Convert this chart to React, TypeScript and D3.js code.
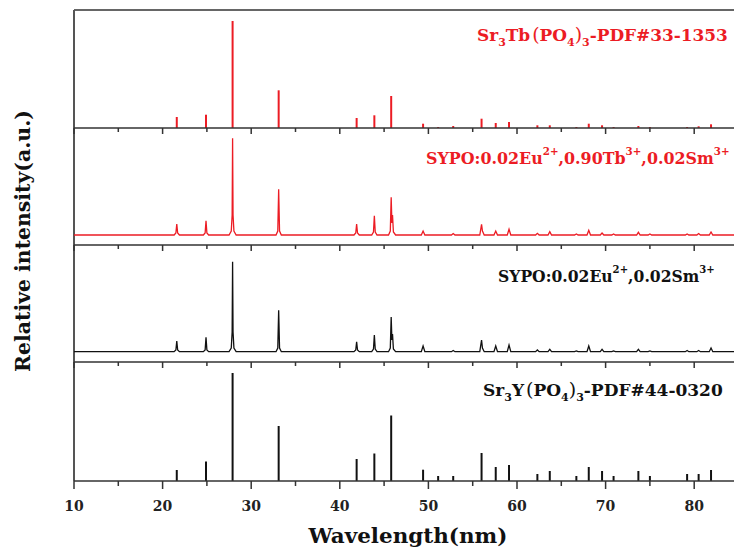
import React, { useLayoutEffect, useRef, useState } from "react";
import * as d3 from "d3";

// ---------- data ----------
// Stick pattern: Sr3Tb(PO4)3 PDF#33-1353  [2θ, intensity]
const tbPdfPeaks: [number, number][] = [
  [21.6, 11], [24.9, 13.3], [27.9, 107], [33.1, 37.7], [41.9, 10], [43.9, 12.7], [45.8, 32],
  [49.4, 4.3], [51.1, 1], [52.8, 2], [56.0, 9.3], [57.6, 5], [59.1, 6], [62.3, 2.7], [63.7, 2.7],
  [66.7, 1], [68.1, 4.3], [69.6, 2.7], [70.9, 1], [73.7, 2], [75.0, 1], [79.2, 1], [80.5, 1.7], [81.9, 3.7],
];

// Measured pattern: SYPO:0.02Eu2+,0.90Tb3+,0.02Sm3+
const sypoTbPattern: [number, number][] = [
  [10, 10], [21.3, 10], [21.5, 12], [21.6, 21], [21.7, 12], [21.9, 10],
  [24.6, 10], [24.8, 12], [24.9, 24.3], [25.0, 12], [25.2, 10],
  [27.5, 10], [27.75, 14], [27.85, 30], [27.9, 106.7], [27.95, 30], [28.05, 14], [28.3, 10],
  [32.8, 10], [33.0, 14], [33.1, 55.7], [33.2, 14], [33.4, 10],
  [41.6, 10], [41.8, 12], [41.9, 21], [42.0, 12], [42.2, 10],
  [43.6, 10], [43.8, 13], [43.9, 29.3], [44.0, 13], [44.2, 10],
  [45.5, 10], [45.7, 14], [45.8, 47.7], [45.88, 22], [45.95, 30], [46.05, 13], [46.3, 10],
  [49.2, 10], [49.4, 14], [49.6, 10],
  [52.6, 10], [52.8, 11.5], [53.0, 10],
  [55.8, 10], [56.0, 20.7], [56.1, 14], [56.3, 10],
  [57.4, 10], [57.6, 14], [57.8, 10],
  [58.9, 10], [59.1, 15.7], [59.3, 10],
  [62.1, 10], [62.3, 11.7], [62.5, 10],
  [63.5, 10], [63.7, 13.3], [63.9, 10],
  [66.5, 10], [66.7, 11], [66.9, 10],
  [67.9, 10], [68.1, 14.7], [68.3, 10],
  [69.4, 10], [69.6, 12], [69.8, 10],
  [70.7, 10], [70.9, 11], [71.1, 10],
  [73.5, 10], [73.7, 12.7], [73.9, 10],
  [74.8, 10], [75.0, 11], [75.2, 10],
  [79.0, 10], [79.2, 11], [79.4, 10],
  [80.3, 10], [80.5, 11.5], [80.7, 10],
  [81.7, 10], [81.9, 13], [82.1, 10],
  [85, 10],
];

// Measured pattern: SYPO:0.02Eu2+,0.02Sm3+
const sypoPattern: [number, number][] = [
  [10, 10.3], [21.3, 10.3], [21.5, 12], [21.6, 21], [21.7, 12], [21.9, 10.3],
  [24.6, 10.3], [24.8, 12], [24.9, 24.6], [25.0, 12], [25.2, 10.3],
  [27.5, 10.3], [27.75, 14], [27.85, 30], [27.9, 100.3], [27.95, 30], [28.05, 14], [28.3, 10.3],
  [32.8, 10.3], [33.0, 14], [33.1, 51.7], [33.2, 14], [33.4, 10.3],
  [41.6, 10.3], [41.8, 12], [41.9, 20.3], [42.0, 12], [42.2, 10.3],
  [43.6, 10.3], [43.8, 13], [43.9, 27], [44.0, 13], [44.2, 10.3],
  [45.5, 10.3], [45.7, 14], [45.8, 45], [45.88, 22], [45.95, 28], [46.05, 13], [46.3, 10.3],
  [49.2, 10.3], [49.4, 16], [49.6, 10.3],
  [52.6, 10.3], [52.8, 11.5], [53.0, 10.3],
  [55.8, 10.3], [56.0, 22], [56.1, 14], [56.3, 10.3],
  [57.4, 10.3], [57.6, 16], [57.8, 10.3],
  [58.9, 10.3], [59.1, 17], [59.3, 10.3],
  [62.1, 10.3], [62.3, 12], [62.5, 10.3],
  [63.5, 10.3], [63.7, 12.6], [63.9, 10.3],
  [66.5, 10.3], [66.7, 11], [66.9, 10.3],
  [67.9, 10.3], [68.1, 16], [68.3, 10.3],
  [69.4, 10.3], [69.6, 12.6], [69.8, 10.3],
  [70.7, 10.3], [70.9, 11], [71.1, 10.3],
  [73.5, 10.3], [73.7, 12.6], [73.9, 10.3],
  [74.8, 10.3], [75.0, 11], [75.2, 10.3],
  [79.0, 10.3], [79.2, 11.5], [79.4, 10.3],
  [80.3, 10.3], [80.5, 11.5], [80.7, 10.3],
  [81.7, 10.3], [81.9, 14], [82.1, 10.3],
  [85, 10.3],
];

// Stick pattern: Sr3Y(PO4)3 PDF#44-0320
const yPdfPeaks: [number, number][] = [
  [21.6, 11], [24.9, 19.5], [27.9, 108], [33.1, 55], [41.9, 22], [43.9, 27.5], [45.8, 65.5],
  [49.4, 11.3], [51.1, 5], [52.8, 5], [56.0, 28], [57.6, 14], [59.1, 16], [62.3, 7], [63.7, 10],
  [66.7, 5], [68.1, 14], [69.6, 10], [70.9, 5], [73.7, 10], [75.0, 5], [79.2, 7], [80.5, 7], [81.9, 11],
];

const xTickValues = [10, 20, 30, 40, 50, 60, 70, 80];
const xMinorTicks = [15, 25, 35, 45, 55, 65, 75, 85];

// ---------- layout ----------
const W = 734;
const H = 556;
const X0 = 74;
const panelTops = [10, 128, 245, 362];
const panelBottoms = [128, 245, 362, 481];
const RED = "#ec1c24";
const BLACK = "#111";
const FONT = "'DejaVu Serif', serif";

const x = d3.scaleLinear().domain([10, 85]).range([X0, 738.5]);
const yFor = (i: number) =>
  d3.scaleLinear().domain([0, 118]).range([panelBottoms[i], panelBottoms[i] - 118]);

function FitText(props: {
  x: number;
  y: number;
  width: number;
  anchor?: "start" | "middle";
  rotate?: boolean;
  fontSize: number;
  fill: string;
  children: React.ReactNode;
}) {
  const ref = useRef<SVGTextElement>(null);
  const [s, setS] = useState(1);
  useLayoutEffect(() => {
    if (ref.current) {
      const w = ref.current.getBBox().width;
      if (w > 0) setS(props.width / w);
    }
  }, [props.width]);
  const rot = props.rotate ? " rotate(-90)" : "";
  return (
    <g transform={`translate(${props.x},${props.y})${rot} scale(${s},1)`}>
      <text
        ref={ref}
        x={0}
        y={0}
        textAnchor={props.anchor || "start"}
        fontSize={props.fontSize}
        fontWeight="bold"
        fill={props.fill}
      >
        {props.children}
      </text>
    </g>
  );
}

export default function App() {
  const line2 = d3
    .line<[number, number]>()
    .x((d) => x(d[0]))
    .y((d) => yFor(1)(d[1]));
  const line3 = d3
    .line<[number, number]>()
    .x((d) => x(d[0]))
    .y((d) => yFor(2)(d[1]));

  const axisTicks = (yb: number, major: number, minor: number, key: string) => (
    <g key={key}>
      <line x1={X0} x2={W} y1={yb} y2={yb} stroke="#333" strokeWidth={1.6} />
      {xTickValues.map((t) => (
        <line key={"M" + t} x1={x(t)} x2={x(t)} y1={yb} y2={yb + major} stroke="#333" strokeWidth={1.5} />
      ))}
      {xMinorTicks.map((t) => (
        <line key={"m" + t} x1={x(t)} x2={x(t)} y1={yb} y2={yb + minor} stroke="#333" strokeWidth={1.5} />
      ))}
    </g>
  );

  const sub = { fontSize: 11 };
  const paren = { fontWeight: "normal" as const, fontSize: 19 };

  return (
    <svg
      width={W}
      height={H}
      style={{ position: "absolute", left: 0, top: 0, background: "#fff" }}
      fontFamily={FONT}
    >
      <rect x={0} y={0} width={W} height={H} fill="#fff" />
      {/* frame */}
      <line x1={X0} x2={W} y1={panelTops[0]} y2={panelTops[0]} stroke="#333" strokeWidth={1.6} />
      <line x1={X0} x2={X0} y1={panelTops[0]} y2={panelBottoms[3]} stroke="#555" strokeWidth={2} />

      {/* panel 1 sticks */}
      {tbPdfPeaks.map((d, i) => (
        <line key={"a" + i} x1={x(d[0])} x2={x(d[0])} y1={yFor(0)(0)} y2={yFor(0)(d[1])} stroke={RED} strokeWidth={2} />
      ))}
      {/* panel 2 spectrum */}
      <path d={line2(sypoTbPattern) || ""} fill="none" stroke={RED} strokeWidth={1.3} />
      {/* panel 3 spectrum */}
      <path d={line3(sypoPattern) || ""} fill="none" stroke={BLACK} strokeWidth={1.3} />
      {/* panel 4 sticks */}
      {yPdfPeaks.map((d, i) => (
        <line key={"b" + i} x1={x(d[0])} x2={x(d[0])} y1={yFor(3)(0)} y2={yFor(3)(d[1])} stroke={BLACK} strokeWidth={2} />
      ))}

      {axisTicks(panelBottoms[0], 6, 4, "ax0")}
      {axisTicks(panelBottoms[1], 6, 4, "ax1")}
      {axisTicks(panelBottoms[2], 6, 4, "ax2")}
      {axisTicks(panelBottoms[3], 8, 5, "ax3")}

      {/* tick labels */}
      {xTickValues.map((t) => (
        <text key={"l" + t} x={x(t)} y={511} textAnchor="middle" fontSize={14} fontWeight="bold" fill="#222">
          {t}
        </text>
      ))}

      {/* axis titles */}
      <FitText x={408} y={543} width={200} anchor="middle" fontSize={21} fill="#111">
        Wavelength(nm)
      </FitText>
      <FitText x={30} y={241} width={262} anchor="middle" rotate fontSize={20} fill="#111">
        Relative intensity(a.u.)
      </FitText>

      {/* series labels */}
      <FitText x={477} y={41} width={251} fontSize={17} fill={RED}>
        Sr<tspan {...sub} dy={5}>3</tspan>
        <tspan dy={-5}>Tb</tspan>
        <tspan {...paren} dx={2}>(</tspan>
        <tspan>PO</tspan>
        <tspan {...sub} dy={5}>4</tspan>
        <tspan {...paren} dy={-5}>)</tspan>
        <tspan {...sub} dy={5}>3</tspan>
        <tspan dy={-5}>-PDF#33-1353</tspan>
      </FitText>
      <FitText x={426} y={164} width={304} fontSize={17} fill={RED}>
        SYPO:0.02Eu<tspan {...sub} dy={-9}>2+</tspan>
        <tspan dy={9}>,0.90Tb</tspan>
        <tspan {...sub} dy={-9}>3+</tspan>
        <tspan dy={9}>,0.02Sm</tspan>
        <tspan {...sub} dy={-9}>3+</tspan>
      </FitText>
      <FitText x={498} y={282} width={217} fontSize={17} fill={BLACK}>
        SYPO:0.02Eu<tspan {...sub} dy={-9}>2+</tspan>
        <tspan dy={9}>,0.02Sm</tspan>
        <tspan {...sub} dy={-9}>3+</tspan>
      </FitText>
      <FitText x={483} y={396} width={240} fontSize={17} fill={BLACK}>
        Sr<tspan {...sub} dy={5}>3</tspan>
        <tspan dy={-5}>Y</tspan>
        <tspan {...paren} dx={2}>(</tspan>
        <tspan>PO</tspan>
        <tspan {...sub} dy={5}>4</tspan>
        <tspan {...paren} dy={-5}>)</tspan>
        <tspan {...sub} dy={5}>3</tspan>
        <tspan dy={-5}>-PDF#44-0320</tspan>
      </FitText>
    </svg>
  );
}
